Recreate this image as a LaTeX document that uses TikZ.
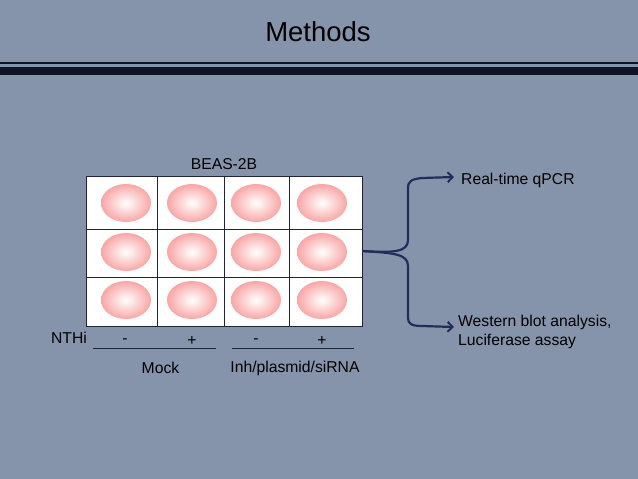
\documentclass[tikz,border=0pt]{standalone}
\usepackage{fontspec}
\setmainfont{Liberation Sans}
\usetikzlibrary{arrows.meta}
\definecolor{bgcol}{RGB}{134,148,171}
\definecolor{barcol}{RGB}{14,19,38}
\definecolor{gridcol}{RGB}{30,36,62}
\definecolor{bracecol}{RGB}{36,44,90}
\definecolor{cellpink}{RGB}{249,166,166}
\begin{document}
\begin{tikzpicture}[x=1pt,y=-1pt,
  lbl/.style={font=\fontsize{15.7}{19}\selectfont, inner sep=0pt, text=black},
  gridline/.style={draw=gridcol, line width=0.9pt},
  brace/.style={draw=bracecol, line width=2.2pt, -{Straight Barb[length=5pt,width=10pt,line width=2pt]}},
  underline/.style={draw=gridcol, line width=0.8pt}]
\fill[bgcol] (0,0) rectangle (638,479);
\useasboundingbox (0,0) rectangle (638,479);
% title bars
\fill[barcol] (0,61.8) rectangle (638,64);
\fill[barcol] (0,66.8) rectangle (638,75.3);
\node[font=\fontsize{27.5}{30}\selectfont, inner sep=0pt] (title) at (318,32) {Methods};
% plate
\node[draw=gridcol, fill=white, line width=0.9pt, minimum width=276pt, minimum height=150pt, inner sep=0pt] (plate) at (224,251) {};
\foreach \x in {157,224,289} \draw[gridline] (\x,176) -- (\x,326);
\foreach \y in {229,277} \draw[gridline] (86,\y) -- (362,\y);
\foreach \x in {126,192,256,322}
  \foreach \y in {203,252,300}
    \shade[inner color=white, outer color=cellpink] (\x,\y) ellipse [x radius=25, y radius=19];
\node[lbl] (beas) at (224,164) {BEAS-2B};
% brace arrows
\coordinate (t1) at (454,177);
\coordinate (t2) at (454,327);
\draw[brace] (plate.east) .. controls (394,253) and (408,252) .. (408,240) -- (408,188) .. controls (408,181) and (412,179) .. (422,178) -- (t1);
\draw[brace] (plate.east) .. controls (394,253) and (408,254) .. (408,266) -- (408,318) .. controls (408,324) and (412,326) .. (422,326) -- (t2);
\node[lbl, anchor=west] (qpcr) at (461,180) {Real-time qPCR};
\node[lbl, anchor=west, align=left] (wb) at (458,331.5) {Western blot analysis,\\Luciferase assay};
% labels below
\node[lbl] (nthi) at (69,338) {NTHi};
\node[lbl] (m1) at (125,341) {-};
\node[lbl] (p1) at (192,341) {+};
\node[lbl] (m2) at (256,341) {-};
\node[lbl] (p2) at (322,341) {+};
\draw[underline] (93,348) -- (216,348);
\draw[underline] (232,348) -- (354,348);
\node[lbl] (mock) at (160.5,368) {Mock};
\node[lbl] (inh) at (295,368) {Inh/plasmid/siRNA};
\end{tikzpicture}
\end{document}
